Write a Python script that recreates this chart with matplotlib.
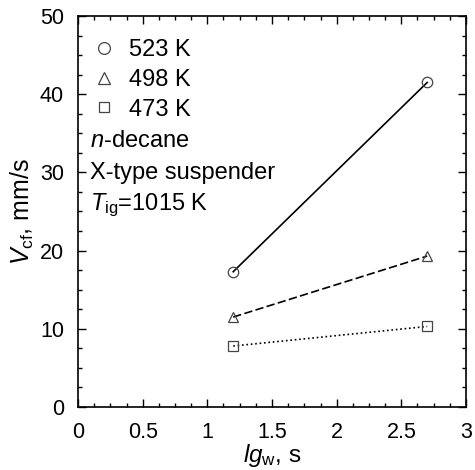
import matplotlib
matplotlib.use("Agg")
import matplotlib.pyplot as plt
from matplotlib.ticker import MultipleLocator
from matplotlib.lines import Line2D

plt.rcParams['font.family'] = ['Liberation Sans', 'DejaVu Sans']
plt.rcParams['mathtext.fontset'] = 'custom'
plt.rcParams['mathtext.rm'] = 'Liberation Sans'
plt.rcParams['mathtext.it'] = 'Liberation Sans:italic'

x = [1.2, 2.7]
v523 = [17.3, 41.5]
v498 = [11.5, 19.3]
v473 = [7.8, 10.3]
labels = ['523 K', '498 K', '473 K']

fig = plt.figure(figsize=(4.75, 4.70), dpi=100)
ax = fig.add_axes([78/475, 1-407/470, (466-78)/475, (407-16)/470])

ms = 7.5
mec = '#444444'
ax.plot(x, v523, '-', color='black', lw=1.2, marker='o', mfc='none', mec=mec, ms=ms, mew=0.9)
ax.plot(x, v498, '--', color='black', lw=1.2, marker='^', mfc='none', mec=mec, ms=ms, mew=0.9, dashes=(5, 2))
ax.plot(x, v473, ':', color='black', lw=1.2, marker='s', mfc='none', mec=mec, ms=ms-1, mew=0.9)

ax.set_xlim(0, 3)
ax.set_ylim(0, 50)
ax.xaxis.set_major_locator(MultipleLocator(0.5))
ax.xaxis.set_minor_locator(MultipleLocator(0.125))
ax.yaxis.set_major_locator(MultipleLocator(10))
ax.yaxis.set_minor_locator(MultipleLocator(2.5))
ax.set_xticks([0, 0.5, 1, 1.5, 2, 2.5, 3])
ax.set_xticklabels(['0', '0.5', '1', '1.5', '2', '2.5', '3'])
ax.tick_params(which='both', direction='in', top=True, right=True, labelsize=15.5, colors='black')
ax.tick_params(which='major', length=6, width=1)
ax.tick_params(which='minor', length=3, width=1)
ax.tick_params(axis='x', which='major', pad=11)
ax.tick_params(axis='y', which='major', pad=10)
for s in ax.spines.values():
    s.set_linewidth(1.2)

ax.set_xlabel(r'$\mathit{lg}_{\mathrm{w}}$, s', fontsize=17.5, labelpad=-1)
ax.set_ylabel(r'$\mathit{V}_{\mathrm{cf}}$, mm/s', fontsize=18, labelpad=3)

fs = 17
handles = [Line2D([], [], ls='none', marker='o', mfc='none', mec=mec, ms=8.5, mew=0.9),
           Line2D([], [], ls='none', marker='^', mfc='none', mec=mec, ms=8.5, mew=0.9),
           Line2D([], [], ls='none', marker='s', mfc='none', mec=mec, ms=7.5, mew=0.9)]
leg = ax.legend(handles, labels, loc='upper left', bbox_to_anchor=(0.0, 0.983), frameon=False,
                fontsize=fs, handlelength=0.8, handletextpad=0.65, labelspacing=0.33, borderaxespad=0.3)

ax.text(0.031, 0.665, r'$\mathit{n}$-decane', transform=ax.transAxes, fontsize=fs, va='baseline')
ax.text(0.031, 0.583, 'X-type suspender', transform=ax.transAxes, fontsize=fs, va='baseline')
ax.text(0.031, 0.504, r'$\mathit{T}_{\mathrm{ig}}$=1015 K', transform=ax.transAxes, fontsize=fs, va='baseline')

fig.savefig('out.png', dpi=100)
